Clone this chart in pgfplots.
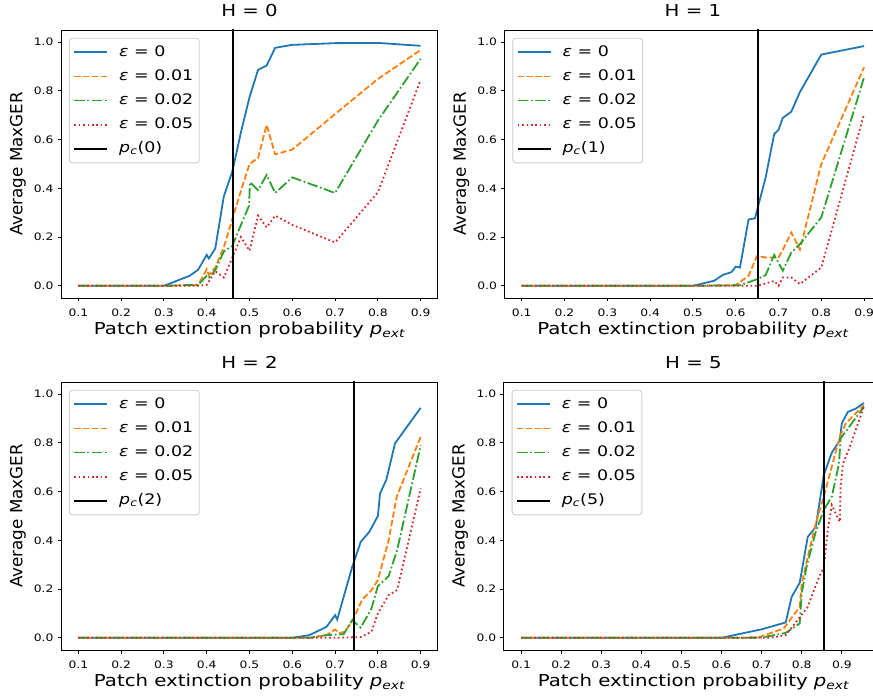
\documentclass[border=0pt]{standalone}
\usepackage{fontspec}
\setmainfont{DejaVu Sans}[FakeStretch=1.2, ItalicFont={DejaVu Sans Oblique}]
\newfontfamily\ylabfont{DejaVu Sans}
\usepackage{pgfplots}
\pgfplotsset{compat=1.18}
\definecolor{tabblue}{HTML}{1F77B4}
\definecolor{taborange}{HTML}{FF7F0E}
\definecolor{tabgreen}{HTML}{2CA02C}
\definecolor{tabred}{HTML}{D62728}
\definecolor{legframe}{HTML}{CCCCCC}
\pgfplotsset{
  panel/.style={
    scale only axis, width=376.6bp, height=268bp,
    xmin=0.06, xmax=0.94, ymin=-0.05, ymax=1.05,
    xtick={0.1,0.2,0.3,0.4,0.5,0.6,0.7,0.8,0.9},
    ytick={0,0.2,0.4,0.6,0.8,1},
    xticklabel={\pgfmathprintnumber[fixed,fixed zerofill,precision=1,assume math mode=true]{\tick}},
    yticklabel={\pgfmathprintnumber[fixed,fixed zerofill,precision=1,assume math mode=true]{\tick}},
    scaled ticks=false,
    tick align=outside, tick pos=left, major tick length=3.5bp,
    every tick/.style={black, line width=0.9bp},
    axis line style={black, line width=0.9bp},
    tick label style={font=\fontsize{10.3}{12}\selectfont},
    xticklabel style={anchor=north, inner sep=0pt, yshift=-7bp},
    yticklabel style={anchor=east, inner sep=0pt, xshift=-4bp},
    title style={font=\fontsize{16.5}{19}\selectfont, at={(axis description cs:0.5,1.0272)}, anchor=base},
    xlabel style={font=\fontsize{16.5}{19}\selectfont, at={(axis description cs:0.5,-0.138)}, anchor=base},
    ylabel style={font=\ylabfont\fontsize{16.8}{19}\selectfont, at={(axis description cs:-0.115,0.5)}, anchor=center},
    xlabel={Patch extinction probability {\itshape p}\textsubscript{\itshape ext}},
    ylabel={Average MaxGER},
    legend cell align=left,
    legend style={at={(axis description cs:0.0207,0.971)}, anchor=north west,
      draw=legframe, line width=0.9bp, rounded corners=3bp, fill=white, fill opacity=0.8, text opacity=1, draw opacity=1,
      font=\fontsize{14.6}{16}\selectfont, inner xsep=4bp, inner ysep=5.2bp, row sep=6.3bp,
      nodes={inner sep=2bp, text height=10.8bp, text depth=3bp},
      /tikz/every odd column/.append style={column sep=9bp}},
    legend image code/.code={\draw[#1] (0bp,0bp) -- (33bp,0bp);},
  },
  s0/.style={tabblue, line width=1.8bp},
  s1/.style={taborange, line width=1.8bp, dash pattern=on 6.2bp off 2.6bp},
  s2/.style={tabgreen, line width=1.8bp, dash pattern=on 10.5bp off 2.6bp on 1.7bp off 2.6bp},
  s3/.style={tabred, line width=1.8bp, dash pattern=on 1.7bp off 2.7bp},
  pc/.style={black, line width=1.8bp},
}
\begin{document}
\makebox[873bp][l]{%
\begin{tikzpicture}
\path (0,0) rectangle (873bp,700bp);
% ---------------- H = 0
\begin{axis}[panel, at={(61.2bp,402bp)}, anchor=south west, title={H = 0}]
\addplot[s0] coordinates {(0.1,0) (0.2,0) (0.3,0) (0.36,0.041) (0.38,0.066) (0.4,0.127) (0.405,0.112) (0.42,0.153) (0.44,0.367) (0.46,0.47) (0.48,0.63) (0.5,0.774) (0.52,0.886) (0.54,0.904) (0.56,0.977) (0.6,0.989) (0.7,0.996) (0.8,0.997) (0.9,0.985)};
\addlegendentry{{\itshape ε} = 0}
\addplot[s1] coordinates {(0.1,0) (0.2,0) (0.3,0) (0.38,0.003) (0.4,0.068) (0.405,0.045) (0.42,0.075) (0.44,0.158) (0.46,0.274) (0.48,0.39) (0.5,0.50) (0.52,0.525) (0.54,0.66) (0.56,0.54) (0.6,0.559) (0.7,0.705) (0.8,0.849) (0.9,0.968)};
\addlegendentry{{\itshape ε} = 0.01}
\addplot[s2] coordinates {(0.1,0) (0.2,0) (0.3,0) (0.38,0.004) (0.4,0.041) (0.405,0.034) (0.42,0.064) (0.44,0.141) (0.46,0.164) (0.48,0.25) (0.499,0.329) (0.501,0.425) (0.52,0.393) (0.54,0.455) (0.56,0.381) (0.6,0.445) (0.7,0.381) (0.8,0.678) (0.9,0.932)};
\addlegendentry{{\itshape ε} = 0.02}
\addplot[s3] coordinates {(0.1,0) (0.2,0) (0.3,0) (0.38,0) (0.4,0.004) (0.42,0.06) (0.44,0.034) (0.46,0.116) (0.48,0.2) (0.5,0.144) (0.52,0.288) (0.54,0.24) (0.56,0.288) (0.6,0.25) (0.7,0.178) (0.8,0.384) (0.9,0.845)};
\addlegendentry{{\itshape ε} = 0.05}
\addplot[pc] coordinates {(0.4607,-0.1) (0.4607,1.1)};
\addlegendentry{{\itshape p}\textsubscript{\itshape c}(0)}
\end{axis}
% ---------------- H = 1
\begin{axis}[panel, at={(504.6bp,402bp)}, anchor=south west, title={H = 1}]
\addplot[s0] coordinates {(0.1,0) (0.2,0) (0.3,0) (0.4,0) (0.5,0) (0.55,0.021) (0.57,0.045) (0.59,0.056) (0.6,0.079) (0.61,0.075) (0.63,0.272) (0.645,0.277) (0.67,0.445) (0.69,0.623) (0.7,0.64) (0.71,0.689) (0.73,0.715) (0.75,0.795) (0.8,0.949) (0.9,0.984)};
\addlegendentry{{\itshape ε} = 0}
\addplot[s1] coordinates {(0.1,0) (0.2,0) (0.3,0) (0.4,0) (0.5,0) (0.6,0.003) (0.63,0.041) (0.65,0.123) (0.67,0.116) (0.7,0.116) (0.71,0.148) (0.73,0.219) (0.75,0.148) (0.8,0.5) (0.9,0.897)};
\addlegendentry{{\itshape ε} = 0.01}
\addplot[s2] coordinates {(0.1,0) (0.2,0) (0.3,0) (0.4,0) (0.5,0) (0.61,0.002) (0.65,0.027) (0.67,0.044) (0.69,0.127) (0.71,0.062) (0.73,0.137) (0.75,0.171) (0.8,0.281) (0.9,0.856)};
\addlegendentry{{\itshape ε} = 0.02}
\addplot[s3] coordinates {(0.1,0) (0.2,0) (0.3,0) (0.4,0) (0.5,0) (0.65,0) (0.69,0.02) (0.7,0.0) (0.71,0.034) (0.73,0.034) (0.75,0.007) (0.8,0.075) (0.9,0.705)};
\addlegendentry{{\itshape ε} = 0.05}
\addplot[pc] coordinates {(0.6514,-0.1) (0.6514,1.1)};
\addlegendentry{{\itshape p}\textsubscript{\itshape c}(1)}
\end{axis}
% ---------------- H = 2
\begin{axis}[panel, at={(61.2bp,50bp)}, anchor=south west, title={H = 2}]
\addplot[s0] coordinates {(0.1,0) (0.2,0) (0.3,0) (0.4,0) (0.5,0) (0.6,0) (0.64,0.011) (0.68,0.045) (0.7,0.093) (0.705,0.075) (0.72,0.168) (0.74,0.291) (0.76,0.394) (0.78,0.435) (0.8,0.5) (0.805,0.592) (0.82,0.65) (0.84,0.798) (0.9,0.944)};
\addlegendentry{{\itshape ε} = 0}
\addplot[s1] coordinates {(0.1,0) (0.2,0) (0.3,0) (0.4,0) (0.5,0) (0.6,0) (0.64,0) (0.68,0.011) (0.7,0.034) (0.71,0.02) (0.724,0.025) (0.743,0.08) (0.763,0.155) (0.785,0.196) (0.8,0.237) (0.825,0.40) (0.844,0.579) (0.9,0.825)};
\addlegendentry{{\itshape ε} = 0.01}
\addplot[s2] coordinates {(0.1,0) (0.2,0) (0.3,0) (0.4,0) (0.5,0) (0.6,0) (0.64,0) (0.68,0.011) (0.72,0.015) (0.74,0.072) (0.76,0.042) (0.785,0.12) (0.8,0.212) (0.825,0.253) (0.845,0.36) (0.9,0.79)};
\addlegendentry{{\itshape ε} = 0.02}
\addplot[s3] coordinates {(0.1,0) (0.2,0) (0.3,0) (0.4,0) (0.5,0) (0.6,0) (0.7,0) (0.76,0.003) (0.785,0.025) (0.8,0.1) (0.825,0.175) (0.845,0.196) (0.9,0.613)};
\addlegendentry{{\itshape ε} = 0.05}
\addplot[pc] coordinates {(0.7433,-0.1) (0.7433,1.1)};
\addlegendentry{{\itshape p}\textsubscript{\itshape c}(2)}
\end{axis}
% ---------------- H = 5
\begin{axis}[panel, at={(503.8bp,50bp)}, anchor=south west, title={H = 5}, width=379.3bp, xmin=0.057, xmax=1.003]
\addplot[s0] coordinates {(0.1,0) (0.2,0) (0.3,0) (0.4,0) (0.5,0) (0.6,0) (0.7,0.035) (0.76,0.063) (0.775,0.168) (0.795,0.226) (0.815,0.414) (0.835,0.455) (0.855,0.668) (0.875,0.76) (0.895,0.81) (0.9,0.88) (0.915,0.927) (0.935,0.941) (0.955,0.964)};
\addlegendentry{{\itshape ε} = 0}
\addplot[s1] coordinates {(0.1,0) (0.2,0) (0.3,0) (0.4,0) (0.5,0) (0.6,0) (0.69,0.001) (0.755,0.038) (0.795,0.127) (0.8,0.223) (0.815,0.332) (0.835,0.469) (0.855,0.579) (0.875,0.702) (0.895,0.825) (0.91,0.88) (0.955,0.955)};
\addlegendentry{{\itshape ε} = 0.01}
\addplot[s2] coordinates {(0.1,0) (0.2,0) (0.3,0) (0.4,0) (0.5,0) (0.6,0) (0.7,0.001) (0.76,0.02) (0.795,0.059) (0.8,0.182) (0.812,0.291) (0.835,0.435) (0.855,0.524) (0.875,0.579) (0.893,0.715) (0.897,0.818) (0.955,0.948)};
\addlegendentry{{\itshape ε} = 0.02}
\addplot[s3] coordinates {(0.1,0) (0.2,0) (0.3,0) (0.4,0) (0.5,0) (0.6,0) (0.72,0) (0.76,0.011) (0.78,0.052) (0.815,0.127) (0.84,0.237) (0.855,0.291) (0.865,0.442) (0.875,0.545) (0.883,0.517) (0.895,0.476) (0.897,0.62) (0.903,0.715) (0.92,0.784) (0.955,0.948)};
\addlegendentry{{\itshape ε} = 0.05}
\addplot[pc] coordinates {(0.8556,-0.1) (0.8556,1.1)};
\addlegendentry{{\itshape p}\textsubscript{\itshape c}(5)}
\end{axis}
\end{tikzpicture}}
\end{document}
